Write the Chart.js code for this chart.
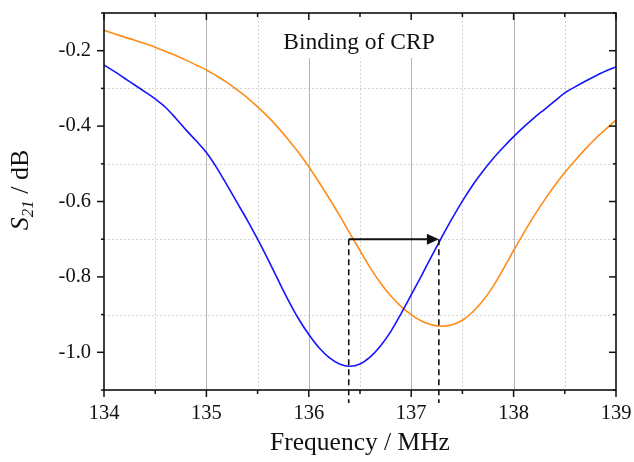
<!DOCTYPE html>
<html>
<head>
<meta charset="utf-8">
<script src="https://cdn.jsdelivr.net/npm/chart.js@4.4.1/dist/chart.umd.min.js"></script>
<style>
  html, body { margin: 0; padding: 0; background: #fff; }
  #wrap { width: 634px; height: 462px; }
</style>
</head>
<body>
<div id="wrap"><canvas id="chart" width="634" height="462"></canvas></div>
<script>
// frequency points, MHz
const freq = [
  134.0, 134.1, 134.2, 134.3, 134.4, 134.5, 134.6, 134.7, 134.8, 134.9,
  135.0, 135.1, 135.2, 135.3, 135.4, 135.5, 135.6, 135.7, 135.8, 135.9,
  136.0, 136.1, 136.2, 136.3, 136.4, 136.5, 136.6, 136.7, 136.8, 136.9,
  137.0, 137.1, 137.2, 137.3, 137.4, 137.5, 137.6, 137.7, 137.8, 137.9,
  138.0, 138.1, 138.2, 138.3, 138.4, 138.5, 138.6, 138.7, 138.8, 138.9,
  139.0
];

// S21 before binding (blue), dB
const s21Before = [
  -0.238, -0.255, -0.273, -0.291, -0.309, -0.328, -0.350, -0.379, -0.410, -0.439,
  -0.470, -0.510, -0.556, -0.603, -0.650, -0.700, -0.753, -0.808, -0.862, -0.911,
  -0.953, -0.988, -1.014, -1.031, -1.037, -1.031, -1.012, -0.983, -0.945, -0.898,
  -0.848, -0.797, -0.745, -0.694, -0.645, -0.599, -0.557, -0.520, -0.486, -0.456,
  -0.428, -0.402, -0.378, -0.356, -0.334, -0.312, -0.296, -0.281, -0.267, -0.254,
  -0.243
];

// S21 after binding of CRP (orange), dB
const s21After = [
  -0.146, -0.155, -0.164, -0.172, -0.181, -0.191, -0.202, -0.213, -0.225, -0.238,
  -0.251, -0.267, -0.284, -0.304, -0.325, -0.349, -0.375, -0.404, -0.436, -0.470,
  -0.508, -0.549, -0.592, -0.637, -0.684, -0.730, -0.776, -0.816, -0.850, -0.878,
  -0.900, -0.917, -0.927, -0.931, -0.927, -0.915, -0.893, -0.863, -0.825, -0.779,
  -0.730, -0.683, -0.638, -0.597, -0.558, -0.523, -0.491, -0.461, -0.433, -0.408,
  -0.384
];

// resonance shift marked by the arrow
const shiftFrom = 136.39;
const shiftTo = 137.27;
const shiftLevel = -0.70;

const xMin = 134, xMax = 139, xStep = 0.5;
const yMin = -1.1, yMax = -0.1, yStep = 0.1;

const serif = '"Liberation Serif", "Times New Roman", serif';
const isMajorX = v => Math.abs(v - Math.round(v)) < 1e-6;
const isMajorY = v => Math.round(v * 10) % 2 === 0;

function line(ctx, x1, y1, x2, y2) {
  ctx.beginPath();
  ctx.moveTo(x1, y1);
  ctx.lineTo(x2, y2);
  ctx.stroke();
}

const decor = {
  id: 'decor',
  beforeDatasetsDraw(chart) {
    const { ctx, chartArea: a, scales: { x, y } } = chart;
    ctx.save();
    ctx.lineWidth = 1;
    // dotted minor grid
    ctx.setLineDash([2, 2]);
    ctx.strokeStyle = '#d4d4d4';
    x.ticks.forEach(t => {
      if (isMajorX(t.value)) return;
      const px = Math.round(x.getPixelForValue(t.value)) + 0.5;
      line(ctx, px, a.top, px, a.bottom);
    });
    y.ticks.forEach(t => {
      if (isMajorY(t.value)) return;
      const py = Math.round(y.getPixelForValue(t.value)) + 0.5;
      line(ctx, a.left, py, a.right, py);
    });
    // solid major verticals
    ctx.setLineDash([]);
    ctx.strokeStyle = '#b4b4b4';
    x.ticks.forEach(t => {
      if (!isMajorX(t.value) || t.value === xMin || t.value === xMax) return;
      const px = Math.round(x.getPixelForValue(t.value)) + 0.5;
      line(ctx, px, a.top, px, a.bottom);
    });
    // label box
    ctx.fillStyle = '#fff';
    ctx.fillRect(278, a.top + 1, 164, 44);
    ctx.fillStyle = '#111';
    ctx.font = '23.5px ' + serif;
    ctx.textAlign = 'center';
    ctx.textBaseline = 'alphabetic';
    ctx.fillText('Binding of CRP', 359, 48.5);
    ctx.restore();
  },
  afterDatasetsDraw(chart) {
    const { ctx, chartArea: a, scales: { x, y } } = chart;
    const x1 = x.getPixelForValue(shiftFrom);
    const x2 = x.getPixelForValue(shiftTo);
    const py = y.getPixelForValue(shiftLevel);
    ctx.save();
    ctx.strokeStyle = '#111';
    ctx.lineWidth = 1.6;
    ctx.setLineDash([6, 4]);
    line(ctx, x1, py, x1, a.bottom + 13);
    line(ctx, x2, py, x2, a.bottom + 13);
    ctx.setLineDash([]);
    ctx.lineWidth = 2;
    line(ctx, x1, py, x2 - 10, py);
    ctx.fillStyle = '#111';
    ctx.beginPath();
    ctx.moveTo(x2, py);
    ctx.lineTo(x2 - 12, py - 5.5);
    ctx.lineTo(x2 - 12, py + 5.5);
    ctx.closePath();
    ctx.fill();
    ctx.restore();
  },
  afterDraw(chart) {
    const { ctx, chartArea: a, scales: { x, y } } = chart;
    ctx.save();
    ctx.strokeStyle = '#111';
    ctx.lineWidth = 1.6;
    ctx.strokeRect(a.left, a.top, a.right - a.left, a.bottom - a.top);
    ctx.lineWidth = 1.5;
    x.ticks.forEach(t => {
      const px = x.getPixelForValue(t.value);
      const len = isMajorX(t.value) ? 7 : 4;
      line(ctx, px, a.bottom, px, a.bottom + len);
      line(ctx, px, a.top, px, a.top + len);
    });
    y.ticks.forEach(t => {
      const py = y.getPixelForValue(t.value);
      const len = isMajorY(t.value) ? 7 : 3;
      line(ctx, a.left - len, py, a.left, py);
      line(ctx, a.right - len, py, a.right, py);
    });
    // axis titles
    ctx.fillStyle = '#111';
    ctx.textBaseline = 'alphabetic';
    ctx.textAlign = 'center';
    ctx.font = '25.5px ' + serif;
    ctx.fillText('Frequency / MHz', (a.left + a.right) / 2, 450);

    ctx.translate(28, 190);
    ctx.rotate(-Math.PI / 2);
    ctx.textAlign = 'left';
    const big = '26px ' + serif, bigIt = 'italic 26px ' + serif, sub = 'italic 17px ' + serif;
    ctx.font = bigIt; const wS = ctx.measureText('S').width;
    ctx.font = sub; const w21 = ctx.measureText('21').width;
    ctx.font = big; const wRest = ctx.measureText(' / dB').width;
    let cx = -(wS + w21 + wRest) / 2;
    ctx.font = bigIt; ctx.fillText('S', cx, 0); cx += wS;
    ctx.font = sub; ctx.fillText('21', cx, 5); cx += w21;
    ctx.font = big; ctx.fillText(' / dB', cx, 0);
    ctx.restore();
  }
};

new Chart(document.getElementById('chart'), {
  type: 'line',
  data: {
    datasets: [
      {
        label: 'before',
        data: freq.map((f, i) => ({ x: f, y: s21Before[i] })),
        borderColor: '#1414ff',
        borderWidth: 1.6,
        pointRadius: 0,
        cubicInterpolationMode: 'monotone'
      },
      {
        label: 'after',
        data: freq.map((f, i) => ({ x: f, y: s21After[i] })),
        borderColor: '#ff8c1a',
        borderWidth: 1.6,
        pointRadius: 0,
        cubicInterpolationMode: 'monotone'
      }
    ]
  },
  options: {
    responsive: false,
    animation: false,
    devicePixelRatio: 1,
    layout: { padding: { left: 0, top: 13, right: 18, bottom: 0 } },
    plugins: { legend: { display: false }, tooltip: { enabled: false } },
    scales: {
      x: {
        type: 'linear',
        min: xMin,
        max: xMax,
        grid: { display: false, drawTicks: false },
        border: { display: false },
        ticks: {
          stepSize: xStep,
          autoSkip: false,
          maxRotation: 0,
          padding: 11,
          color: '#111',
          font: { family: serif, size: 20.5 },
          callback: v => isMajorX(v) ? String(Math.round(v)) : ''
        },
        afterFit: s => {
          s.height = 72;
          s.paddingLeft = 0;
          s.paddingRight = 0;
        }
      },
      y: {
        min: yMin,
        max: yMax,
        grid: { display: false, drawTicks: false },
        border: { display: false },
        ticks: {
          stepSize: yStep,
          autoSkip: false,
          padding: 13,
          color: '#111',
          font: { family: serif, size: 20.5 },
          callback: v => isMajorY(v) ? v.toFixed(1) : ''
        },
        afterFit: s => {
          s.width = 104;
          s.paddingTop = 0;
          s.paddingBottom = 0;
        }
      }
    }
  },
  plugins: [decor]
});
</script>
</body>
</html>
